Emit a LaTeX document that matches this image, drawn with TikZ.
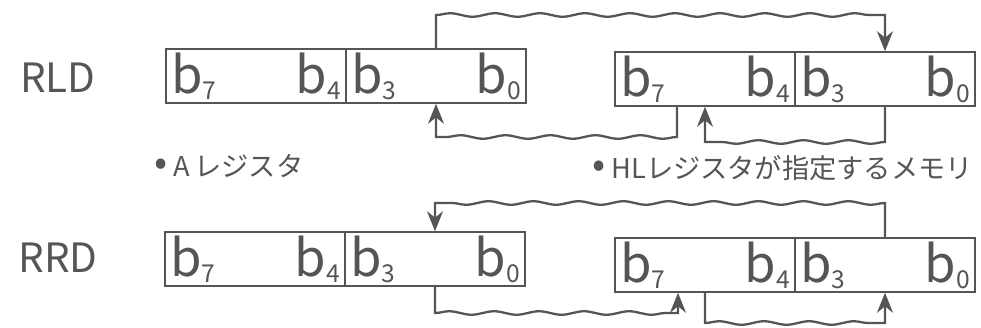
\documentclass[tikz,border=0pt]{standalone}
\usepackage{fontspec}
\setmainfont{Noto Sans CJK JP}
\usetikzlibrary{arrows.meta,decorations.pathmorphing}
\definecolor{pencil}{HTML}{555555}
\newcommand{\bsub}[1]{b\raisebox{-0.12em}{\fontsize{14}{14}\selectfont #1}}
\newcommand{\dotmark}{\raisebox{0.05em}{\fontsize{22}{22}\selectfont •}}
\begin{document}
\begin{tikzpicture}[x=0.02cm, y=-0.02cm, color=pencil,
  half/.style={draw, line width=0.9pt, minimum width=3.6cm, minimum height=1.08cm, inner sep=0pt, font=\fontsize{29}{29}\selectfont},
  wire/.style={line width=1.3pt, -{Stealth[length=4mm,width=3.2mm]}},
  wavy/.style={decoration={snake, amplitude=0.35mm, segment length=9mm}},
  opname/.style={font=\fontsize{23}{23}\selectfont},
  regname/.style={anchor=west, font=\fontsize{15.5}{15.5}\selectfont}]
\useasboundingbox (0,0) rectangle (981,328);
% RLD
\node[opname] (rld) at (58,78) {RLD};
\node[half] (ahi) at (256,76) {\makebox[3.4cm]{\bsub{7}\hfill\bsub{4}}};
\node[half] (alo) at (436,76) {\makebox[3.4cm]{\bsub{3}\hfill\bsub{0}}};
\node[half] (bhi) at (705,79) {\makebox[3.4cm]{\bsub{7}\hfill\bsub{4}}};
\node[half] (blo) at (885,79) {\makebox[3.4cm]{\bsub{3}\hfill\bsub{0}}};
\coordinate (rldtop) at (0,15);
\coordinate (rldlow) at (0,137);
\coordinate (rldlow2) at (0,142);
\draw[wire] (alo.north) -- (alo.north |- rldtop) decorate[wavy]{-- (blo.north |- rldtop)} -- (blo.north);
\draw[wire] ([xshift=-0.56cm]bhi.south) -- ([xshift=-0.56cm]bhi.south |- rldlow) decorate[wavy]{-- (alo.south |- rldlow)} -- (alo.south);
\draw[wire] (blo.south) -- (blo.south |- rldlow2) decorate[wavy]{-- (bhi.south |- rldlow2)} -- (bhi.south);
\node[regname] (areg) at (148,166) {\dotmark\ A\,レジスタ};
\node[regname] (hlmem) at (586,168) {\dotmark\ HLレジスタが指定するメモリ};
% RRD
\node[opname] (rrd) at (58,258) {RRD};
\node[half] (chi) at (255,259) {\makebox[3.4cm]{\bsub{7}\hfill\bsub{4}}};
\node[half] (clo) at (435,259) {\makebox[3.4cm]{\bsub{3}\hfill\bsub{0}}};
\node[half] (dhi) at (705,265) {\makebox[3.4cm]{\bsub{7}\hfill\bsub{4}}};
\node[half] (dlo) at (885,265) {\makebox[3.4cm]{\bsub{3}\hfill\bsub{0}}};
\coordinate (rrdtop) at (0,203);
\coordinate (rrdlow) at (0,313);
\coordinate (rrdlow2) at (0,323);
\draw[wire] (dlo.north) -- (dlo.north |- rrdtop) decorate[wavy]{-- (clo.north |- rrdtop)} -- (clo.north);
\draw[wire] (clo.south) -- (clo.south |- rrdlow) decorate[wavy]{-- ([xshift=-0.54cm]dhi.south |- rrdlow)} -- ([xshift=-0.54cm]dhi.south);
\draw[wire] (dhi.south) -- (dhi.south |- rrdlow2) decorate[wavy]{-- (dlo.south |- rrdlow2)} -- (dlo.south);
\end{tikzpicture}
\end{document}
